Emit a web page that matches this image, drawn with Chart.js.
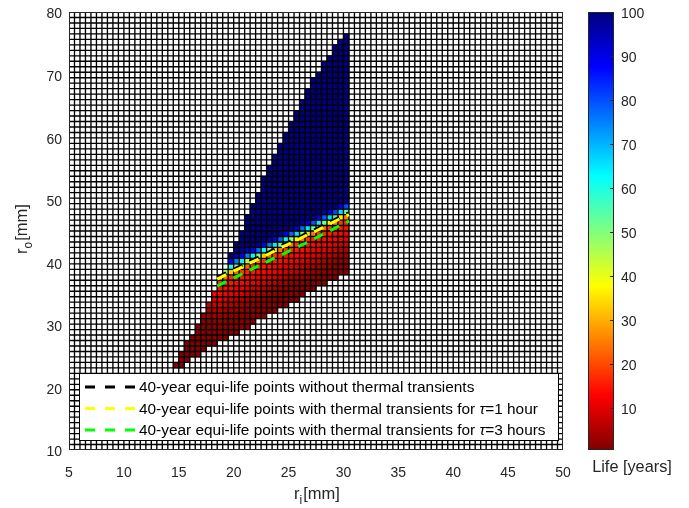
<!DOCTYPE html>
<html>
<head>
<meta charset="utf-8">
<script src="https://cdn.jsdelivr.net/npm/chart.js@4.4.0/dist/chart.umd.min.js"></script>
<style>
  html, body { margin: 0; padding: 0; background: #fff; }
</style>
</head>
<body>
<canvas id="chart" width="689" height="508"></canvas>
<script>
// mesh of the pcolor plot
const riMin = 5, riMax = 50, roMin = 10, roMax = 80;
const meshStepRi = 0.5, meshStepRo = 0.875;

// feasible region: one entry per mesh column (left edge of column)
const riColumns = [14.5, 15, 15.5, 16, 16.5, 17, 17.5, 18, 18.5, 19, 19.5, 20, 20.5, 21, 21.5, 22,
                   22.5, 23, 23.5, 24, 24.5, 25, 25.5, 26, 26.5, 27, 27.5, 28, 28.5, 29, 29.5, 30];
const roColumnBottom = [23.125, 23.125, 24.0, 24.875, 24.875, 25.75, 26.625, 26.625, 27.5, 27.5, 28.375, 28.375,
                        29.25, 29.25, 30.125, 31.0, 31.0, 31.875, 31.875, 32.75, 32.75, 33.625, 33.625, 34.5,
                        35.375, 35.375, 36.25, 36.25, 37.125, 37.125, 38.0, 38.0];
const roColumnTop = [24.0, 25.75, 27.5, 28.375, 30.125, 31.875, 33.625, 35.375, 37.125, 38.875, 41.5, 43.25,
                     45.0, 47.625, 49.375, 51.125, 53.75, 55.5, 57.25, 59.0, 60.75, 62.5, 64.25, 66.0,
                     67.75, 69.5, 70.375, 72.125, 73.0, 74.75, 75.625, 76.5];
// r_o where the life reaches 40 years in each column
const roLife40 = [39.5, 39.3, 39.1, 38.9, 38.7, 38.4, 38.2, 37.9, 37.8, 38.2, 38.7, 39.1, 39.5, 40.0, 40.4, 40.8,
                  41.3, 41.7, 42.1, 42.5, 43.0, 43.4, 43.8, 44.3, 44.7, 45.1, 45.6, 46.0, 46.4, 46.8, 47.3, 47.7];
// life [years] against distance (mm of r_o) from the 40-year point
const profileOffset = [-14, -8, -7, -6, -5, -4, -3, -2, -1, -0.5, 0, 0.4, 0.9, 1.5, 2.2];
const profileLife = [1, 1.5, 2.5, 4.5, 7.5, 10.5, 13, 15, 18, 25, 40, 55, 70, 88, 100];

// 40-year equi-life points
const lineRi = [18.5, 19.5, 20.5, 21.5, 22.5, 23.5, 24.5, 25.5, 26.5, 27.5, 28.5, 29.5, 30.5];
const roNoTransient = [37.6, 38.5, 39.3, 40.2, 41.0, 41.9, 42.8, 43.6, 44.5, 45.3, 46.2, 47.1, 47.9];
const roTau1 = [37.3, 38.2, 39.0, 39.9, 40.7, 41.6, 42.5, 43.3, 44.2, 45.0, 45.9, 46.8, 47.6];
const roTau3 = [36.2, 37.1, 37.9, 38.8, 39.6, 40.5, 41.3, 42.2, 43.0, 43.9, 44.8, 45.7, 46.6];

const seriesLabels = [
  "40-year equi-life points without thermal transients",
  "40-year equi-life points with thermal transients for \u03c4=1 hour",
  "40-year equi-life points with thermal transients for \u03c4=3 hours"
];
const seriesColors = ["#000000", "#ffff00", "#00ff00"];

const colorbarTicks = [10, 20, 30, 40, 50, 60, 70, 80, 90, 100];
const lifeMin = 0.5, lifeMax = 100;

const FONT = '"Liberation Sans", Arial, Helvetica, sans-serif';
const TXT = "#262626";

function clamp01(v) { return Math.max(0, Math.min(1, v)); }

// flipped jet colormap
function jetColor(v) {
  const x = 1 - clamp01((v - lifeMin) / (lifeMax - lifeMin));
  const r = Math.round(clamp01(1.5 - Math.abs(4 * x - 3)) * 255);
  const g = Math.round(clamp01(1.5 - Math.abs(4 * x - 2)) * 255);
  const b = Math.round(clamp01(1.5 - Math.abs(4 * x - 1)) * 255);
  return `rgb(${r},${g},${b})`;
}

function lifeAt(d) {
  if (d <= profileOffset[0]) return profileLife[0];
  for (let i = 1; i < profileOffset.length; i++) {
    if (d <= profileOffset[i]) {
      const f = (d - profileOffset[i - 1]) / (profileOffset[i] - profileOffset[i - 1]);
      return profileLife[i - 1] + f * (profileLife[i] - profileLife[i - 1]);
    }
  }
  return profileLife[profileLife.length - 1];
}

const meshPlugin = {
  id: "mesh",
  beforeDatasetsDraw(chart) {
    const { ctx, chartArea: a, scales: { x, y } } = chart;
    ctx.save();
    ctx.beginPath();
    ctx.rect(a.left, a.top, a.right - a.left, a.bottom - a.top);
    ctx.clip();
    ctx.fillStyle = "#fff";
    ctx.fillRect(a.left, a.top, a.right - a.left, a.bottom - a.top);

    riColumns.forEach((ri, k) => {
      const px0 = x.getPixelForValue(ri);
      const px1 = x.getPixelForValue(ri + meshStepRi);
      for (let ro = roColumnBottom[k]; ro < roColumnTop[k] - 1e-6; ro += meshStepRo) {
        const life = lifeAt(ro + meshStepRo / 2 - roLife40[k]);
        const py0 = y.getPixelForValue(ro + meshStepRo);
        const py1 = y.getPixelForValue(ro);
        ctx.fillStyle = jetColor(life);
        ctx.fillRect(px0 - 0.5, py0 - 0.5, px1 - px0 + 1, py1 - py0 + 1);
      }
    });

    ctx.strokeStyle = "#000";
    ctx.lineWidth = 1.35;
    ctx.beginPath();
    for (let v = riMin; v <= riMax + 1e-6; v += meshStepRi) {
      const px = x.getPixelForValue(v);
      ctx.moveTo(px, a.top);
      ctx.lineTo(px, a.bottom);
    }
    for (let v = roMin; v <= roMax + 1e-6; v += meshStepRo) {
      const py = y.getPixelForValue(v);
      ctx.moveTo(a.left, py);
      ctx.lineTo(a.right, py);
    }
    ctx.stroke();
    ctx.restore();
  }
};

// draws text where "τ" is set in italics
function drawRich(ctx, text, x, y, size) {
  const parts = text.split("\u03c4");
  let cx = x;
  parts.forEach((p, i) => {
    if (i > 0) {
      ctx.font = `italic ${size}px ${FONT}`;
      ctx.fillText("\u03c4", cx, y);
      cx += ctx.measureText("\u03c4").width;
    }
    ctx.font = `${size}px ${FONT}`;
    ctx.fillText(p, cx, y);
    cx += ctx.measureText(p).width;
  });
}

function drawSubLabel(ctx, main, sub, rest, size) {
  ctx.font = `${size}px ${FONT}`;
  const w1 = ctx.measureText(main).width;
  const w3 = ctx.measureText(rest).width;
  ctx.font = `${size * 0.72}px ${FONT}`;
  const w2 = ctx.measureText(sub).width;
  const total = w1 + w2 + w3 + 1;
  let cx = -total / 2;
  ctx.textBaseline = "alphabetic";
  ctx.textAlign = "left";
  ctx.font = `${size}px ${FONT}`;
  ctx.fillText(main, cx, 0);
  cx += w1;
  ctx.font = `${size * 0.72}px ${FONT}`;
  ctx.fillText(sub, cx, size * 0.28);
  cx += w2 + 1;
  ctx.font = `${size}px ${FONT}`;
  ctx.fillText(rest, cx, 0);
}

const overlayPlugin = {
  id: "overlay",
  afterDraw(chart) {
    const { ctx, chartArea: a } = chart;
    ctx.save();

    // axes box
    ctx.strokeStyle = TXT;
    ctx.lineWidth = 1;
    ctx.strokeRect(Math.round(a.left) + 0.5, Math.round(a.top) + 0.5,
                   Math.round(a.right - a.left) - 1, Math.round(a.bottom - a.top) - 1);

    // legend
    const lx = 79, ly = 373, lw = 479, lh = 67;
    ctx.fillStyle = "#fff";
    ctx.fillRect(lx, ly, lw, lh);
    ctx.strokeStyle = "#000";
    ctx.lineWidth = 1;
    ctx.strokeRect(lx + 0.5, ly + 0.5, lw, lh);
    chart.data.datasets.forEach((ds, i) => {
      const ry = ly + 14 + i * 21.5;
      ctx.strokeStyle = ds.borderColor;
      ctx.lineWidth = 3;
      ctx.setLineDash([10, 10]);
      ctx.beginPath();
      ctx.moveTo(lx + 6, ry);
      ctx.lineTo(lx + 57, ry);
      ctx.stroke();
      ctx.setLineDash([]);
      ctx.fillStyle = "#000";
      ctx.textBaseline = "middle";
      ctx.textAlign = "left";
      drawRich(ctx, ds.label, lx + 60, ry + 1, 15.4);
    });

    // colorbar
    const cbL = 588, cbW = 26, cbT = Math.round(a.top), cbB = Math.round(a.bottom);
    const valToPx = v => cbB - (v - lifeMin) / (lifeMax - lifeMin) * (cbB - cbT);
    const grad = ctx.createLinearGradient(0, cbB, 0, cbT);
    for (let s = 0; s <= 64; s++) {
      const v = lifeMin + s / 64 * (lifeMax - lifeMin);
      grad.addColorStop(s / 64, jetColor(v));
    }
    ctx.fillStyle = grad;
    ctx.fillRect(cbL, cbT, cbW, cbB - cbT);
    ctx.strokeStyle = TXT;
    ctx.lineWidth = 1;
    ctx.strokeRect(cbL + 0.5, cbT + 0.5, cbW - 1, cbB - cbT - 1);
    ctx.fillStyle = TXT;
    ctx.font = `14px ${FONT}`;
    ctx.textAlign = "left";
    ctx.textBaseline = "middle";
    colorbarTicks.forEach(t => {
      const py = Math.round(valToPx(t)) + 0.5;
      ctx.beginPath();
      ctx.moveTo(cbL + cbW - 4, py);
      ctx.lineTo(cbL + cbW, py);
      ctx.stroke();
      ctx.fillText(String(t), 621, py + 2);
    });
    ctx.font = `16.3px ${FONT}`;
    ctx.textAlign = "center";
    ctx.fillText("Life [years]", 632, 468);

    // axis titles
    ctx.fillStyle = TXT;
    ctx.save();
    ctx.translate((a.left + a.right) / 2 + 1, 499);
    drawSubLabel(ctx, "r", "i", "[mm]", 16.5);
    ctx.restore();
    ctx.save();
    ctx.translate(27, (a.top + a.bottom) / 2 - 2);
    ctx.rotate(-Math.PI / 2);
    drawSubLabel(ctx, "r", "o", "[mm]", 16.5);
    ctx.restore();

    ctx.restore();
  }
};

const lineDataset = (i, ys, order) => ({
  type: "line",
  label: seriesLabels[i],
  data: lineRi.map((x, k) => ({ x, y: ys[k] })),
  borderColor: seriesColors[i],
  backgroundColor: seriesColors[i],
  borderWidth: 3,
  borderDash: [10, 8],
  pointRadius: 0,
  fill: false,
  tension: 0,
  order
});

new Chart(document.getElementById("chart"), {
  type: "scatter",
  data: {
    datasets: [
      lineDataset(0, roNoTransient, 3),
      lineDataset(1, roTau1, 2),
      lineDataset(2, roTau3, 1)
    ]
  },
  options: {
    responsive: false,
    animation: false,
    events: [],
    layout: { padding: { top: 12, right: 126, left: 0, bottom: 0 } },
    plugins: { legend: { display: false }, tooltip: { enabled: false } },
    scales: {
      x: {
        type: "linear", min: riMin, max: riMax,
        grid: { display: false, drawTicks: false },
        border: { display: false },
        ticks: { stepSize: 5, color: TXT, font: { size: 14, family: FONT }, padding: 15, maxRotation: 0 },
        afterFit: s => { s.height = 58; s.paddingLeft = 0; s.paddingRight = 0; }
      },
      y: {
        type: "linear", min: roMin, max: roMax,
        grid: { display: false, drawTicks: false },
        border: { display: false },
        ticks: { stepSize: 10, color: TXT, font: { size: 14, family: FONT }, padding: 7, labelOffset: 2.5 },
        afterFit: s => { s.width = 69; s.paddingTop = 0; s.paddingBottom = 0; }
      }
    }
  },
  plugins: [meshPlugin, overlayPlugin]
});
</script>
</body>
</html>
